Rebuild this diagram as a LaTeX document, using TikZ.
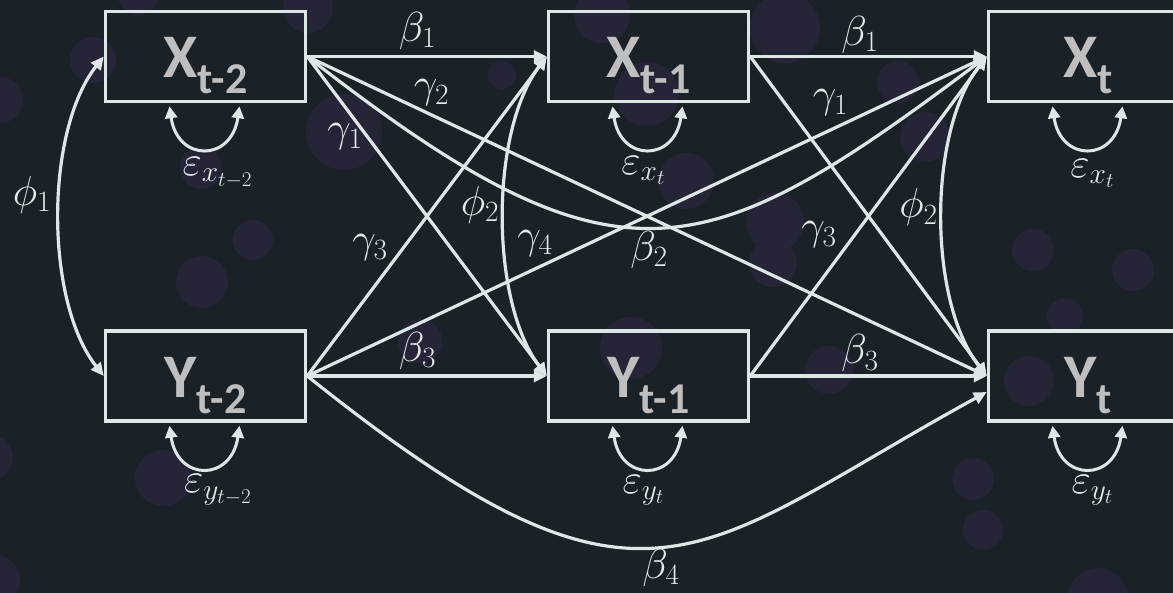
\RequirePackage{fix-cm}
\documentclass[tikz,border=0pt]{standalone}
\usepackage{fontspec}
\newfontfamily\boxfont{Carlito}
\usetikzlibrary{arrows.meta,calc}
\definecolor{bgc}{HTML}{1A2228}
\definecolor{bok}{HTML}{262437}
\definecolor{ln}{HTML}{DDE7E7}
\definecolor{bxt}{HTML}{BFBFBF}
\definecolor{mt}{HTML}{E4EAEA}
\newcommand{\boxlab}[2]{{\fontsize{62}{62}\selectfont #1}\raisebox{-16pt}{\fontsize{44}{44}\selectfont #2}}
\begin{document}
\begin{tikzpicture}[x=1pt,y=-1pt,
 varbox/.style={draw=ln, line width=3.5pt, minimum width=200pt, minimum height=90pt, inner sep=0pt, outer sep=1.75pt},
 boxtxt/.style={text=bxt, inner sep=0pt, anchor=base, font=\boxfont\bfseries},
 mlab/.style={text=mt, inner sep=0pt, font=\fontsize{42}{44}\selectfont},
 conn/.style={draw=ln, line width=3.2pt, -{Triangle[length=13pt,width=12pt]}},
 dconn/.style={draw=ln, line width=3.2pt, {Triangle[length=13pt,width=12pt]}-{Triangle[length=13pt,width=12pt]}},
 loopc/.style={draw=ln, line width=3pt, {Triangle[length=12pt,width=12pt]}-{Triangle[length=12pt,width=12pt]}},
 bokeh/.style={fill=bok, draw=none}]
\useasboundingbox (0,0) rectangle (1173,593);
\fill[bgc] (0,0) rectangle (1173,593);
\clip (0,0) rectangle (1173,593);
\foreach \cx/\cy/\r in {138/-5/20, 308/8/25, 93/60/23, 0/100/23, 344/132/38, 201/168/21, 253/240/20, 202/282/26,
  602/15/28, 502/75/14, 647/94/32, 686/181/28, 775/222/29, 773/263/24, 785/28/35, 898/82/21, 925/137/25,
  1033/250/21, 1133/270/21, -10/457/23, -5/580/25, 163/478/28, 631/348/31, 420/341/22, 829/370/24,
  1029/381/25, 1065/316/18, 973/479/21, 983/530/20, 1098/598/30}
  \fill[bokeh] (\cx,\cy) circle[radius=\r];
% boxes
\node[varbox] (xt2) at (205.5,56.5) {};
\node[varbox] (xt1) at (648.5,56.5) {};
\node[varbox] (xt)  at (1088.5,56.5) {};
\node[varbox] (yt2) at (205.5,376) {};
\node[varbox] (yt1) at (648.5,376) {};
\node[varbox] (yt)  at (1088.5,376) {};
\node[boxtxt] (xt2l) at ($(xt2.center)+(0,21.5)$) {\boxlab{X}{t-2}};
\node[boxtxt] (xt1l) at ($(xt1.center)+(0,21.5)$) {\boxlab{X}{t-1}};
\node[boxtxt] (xtl)  at ($(xt.center)+(0,21.5)$)  {\boxlab{X}{t}};
\node[boxtxt] (yt2l) at ($(yt2.center)+(0,22)$) {\boxlab{Y}{t-2}};
\node[boxtxt] (yt1l) at ($(yt1.center)+(0,22)$) {\boxlab{Y}{t-1}};
\node[boxtxt] (ytl)  at ($(yt.center)+(0,22)$)  {\boxlab{Y}{t}};
% straight paths
\draw[conn] (xt2.east) -- (xt1.west);
\draw[conn] (xt1.east) -- (xt.west);
\draw[conn] (yt2.east) -- (yt1.west);
\draw[conn] (yt1.east) -- (yt.west);
\draw[conn] (xt2.east) -- (yt1.west);
\draw[conn] (xt2.east) -- (yt.west);
\draw[conn] (yt2.east) -- (xt1.west);
\draw[conn] (yt2.east) -- (xt.west);
\draw[conn] (xt1.east) -- (yt.west);
\draw[conn] (yt1.east) -- (xt.west);
% curved paths
\draw[conn] (xt2.east) .. controls +(311,243) and +(-284,213) .. (xt.west);
\coordinate (yt4) at ($(yt.west)+(0,16)$);
\draw[conn] (yt2.east) .. controls +(340,272) and +(-295,162) .. (yt4);
% covariances
\draw[dconn] (xt2.west) .. controls +(-59,75) and +(-59,-75) .. (yt2.west);
\draw[dconn] (xt1.west) .. controls +(-57,75) and +(-57,-75) .. (yt1.west);
\draw[dconn] (xt.west) .. controls +(-59,75) and +(-59,-75) .. (yt.west);
% residual loops
\foreach \b in {xt2,xt1,xt,yt2,yt1,yt}
  \draw[loopc] ($(\b.south)+(-36,3)$) .. controls +(8,56) and +(-8,56) .. ($(\b.south)+(34,3)$);
% labels
\node[mlab] (lb1a) at (417.5,31) {$\beta_1$};
\node[mlab] (lb1b) at (860,35) {$\beta_1$};
\node[mlab] (lg2) at (431.5,93) {$\gamma_2$};
\node[mlab] (lg1a) at (345,137) {$\gamma_1$};
\node[mlab] (lg1b) at (830.5,103) {$\gamma_1$};
\node[mlab] (lg3a) at (370,248) {$\gamma_3$};
\node[mlab] (lg3b) at (819,235) {$\gamma_3$};
\node[mlab] (lg4) at (535,243.5) {$\gamma_4$};
\node[mlab] (lb2) at (649,250) {$\beta_2$};
\node[mlab] (lb3a) at (417.5,351) {$\beta_3$};
\node[mlab] (lb3b) at (860,353.5) {$\beta_3$};
\node[mlab] (lb4) at (661,568) {$\beta_4$};
\node[mlab] (lp1) at (32,195) {$\phi_1$};
\node[mlab] (lp2a) at (480,205) {$\phi_2$};
\node[mlab] (lp2b) at (918.5,207.5) {$\phi_2$};
\node[mlab] (le1) at (217.5,172.5) {$\varepsilon_{x_{t-2}}$};
\node[mlab] (le2) at (643.5,170.5) {$\varepsilon_{x_t}$};
\node[mlab] (le3) at (1092.5,173.5) {$\varepsilon_{x_t}$};
\node[mlab] (le4) at (218,490) {$\varepsilon_{y_{t-2}}$};
\node[mlab] (le5) at (643.5,490) {$\varepsilon_{y_t}$};
\node[mlab] (le6) at (1092.5,490) {$\varepsilon_{y_t}$};
\end{tikzpicture}
\end{document}
